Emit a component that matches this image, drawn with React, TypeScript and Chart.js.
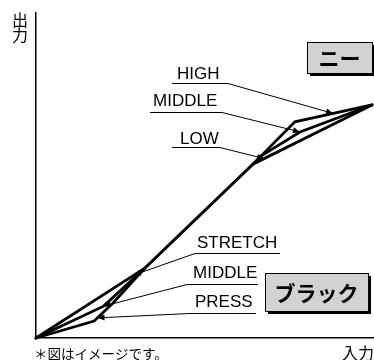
import React, { useEffect, useRef } from "react";
import { Chart, registerables } from "chart.js";

Chart.register(...registerables);

// ---- data (input → output, 0..100 both ways) ----
const stretchX = [0, 32.2];
const stretchY = [0, 21.5];
const blackMiddleX = [0, 20, 32.2];
const blackMiddleY = [0, 9.8, 21.5];
const pressX = [0, 17.2, 22.8, 32.2];
const pressY = [0, 5.2, 10.8, 21.5];
const linearX = [32.2, 64.2];
const linearY = [21.5, 53.5];
const lowX = [64.2, 99.4];
const lowY = [53.5, 71.7];
const kneeMiddleX = [64.2, 67, 78.1, 99.4];
const kneeMiddleY = [53.5, 56.3, 63.4, 71.7];
const highX = [64.2, 76.6, 99.4];
const highY = [53.5, 66.5, 71.7];

// labels and where their arrows point (data units)
const labelNames = ["HIGH", "MIDDLE", "LOW", "STRETCH", "MIDDLE", "PRESS"];
const labelTipX = [87.9, 78.1, 67.5, 29.0, 20.0, 18.2];
const labelTipY = [69.1, 63.4, 55.2, 19.4, 9.8, 6.2];

const kneeBoxText = "ニー";
const blackBoxText = "ブラック";
const yTitle = ["出", "力"];
const xTitle = "入力";
const noteText = "＊図はイメージです。";

// layout of label text (pixels)
const labelLayout = [
  { tx: 177, by: 79, u0: 172, u1: 228, uy: 83.5, side: "right" },
  { tx: 153, by: 106, u0: 150, u1: 222, uy: 112.5, side: "right" },
  { tx: 180, by: 144, u0: 172, u1: 220, uy: 147.5, side: "right" },
  { tx: 197, by: 248, u0: 195, u1: 280, uy: 253.5, side: "left" },
  { tx: 193, by: 278, u0: 187, u1: 258, uy: 284.5, side: "left" },
  { tx: 195, by: 307, u0: 190, u1: 256, uy: 313.5, side: "left" },
];

const toPts = (xs: number[], ys: number[]) => xs.map((x, i) => ({ x, y: ys[i] }));

const overlay = {
  id: "overlay",
  afterDraw(chart: any) {
    const { ctx, scales } = chart;
    const xs = scales.x;
    const ys = scales.y;
    ctx.save();
    ctx.fillStyle = "#000";
    ctx.strokeStyle = "#000";

    // callout labels
    labelNames.forEach((name, i) => {
      const l = labelLayout[i];
      const tx = xs.getPixelForValue(labelTipX[i]);
      const ty = ys.getPixelForValue(labelTipY[i]);
      ctx.font = '17px "Liberation Sans", Arial, sans-serif';
      ctx.textAlign = "left";
      ctx.textBaseline = "alphabetic";
      ctx.fillText(name, l.tx, l.by);
      ctx.lineWidth = 1;
      ctx.beginPath();
      let sx: number;
      if (l.side === "right") {
        ctx.moveTo(l.u0, l.uy);
        ctx.lineTo(l.u1, l.uy);
        sx = l.u1;
      } else {
        ctx.moveTo(l.u1, l.uy);
        ctx.lineTo(l.u0, l.uy);
        sx = l.u0;
      }
      ctx.lineTo(tx, ty);
      ctx.stroke();
      // arrow head
      const ang = Math.atan2(ty - l.uy, tx - sx);
      const len = 7;
      const hw = 3;
      const bx = tx - Math.cos(ang) * len;
      const by = ty - Math.sin(ang) * len;
      ctx.beginPath();
      ctx.moveTo(tx, ty);
      ctx.lineTo(bx + Math.sin(ang) * hw, by - Math.cos(ang) * hw);
      ctx.lineTo(bx - Math.sin(ang) * hw, by + Math.cos(ang) * hw);
      ctx.closePath();
      ctx.fill();
    });

    // boxes
    const box = (x: number, y: number, w: number, h: number, text: string) => {
      ctx.fillStyle = "#000";
      ctx.fillRect(x + 3, y + 3, w, h);
      ctx.fillStyle = "#d2d2d2";
      ctx.fillRect(x, y, w, h);
      ctx.lineWidth = 1;
      ctx.strokeStyle = "#000";
      ctx.strokeRect(x + 0.5, y + 0.5, w, h);
      ctx.fillStyle = "#000";
      ctx.font = 'bold 21px "Noto Sans CJK JP", sans-serif';
      ctx.textAlign = "center";
      ctx.textBaseline = "middle";
      ctx.fillText(text, x + w / 2, y + h / 2 + 1);
    };
    box(307, 42, 65, 31, kneeBoxText);
    box(265, 273, 103, 38, blackBoxText);

    // axis titles
    ctx.fillStyle = "#000";
    ctx.font = '16px "Noto Sans CJK JP", sans-serif';
    ctx.textAlign = "center";
    ctx.textBaseline = "middle";
    ctx.fillText(yTitle[0], 20, 20);
    ctx.fillText(yTitle[1], 20, 35);
    ctx.textAlign = "right";
    ctx.fillText(xTitle, 374, 353);
    ctx.font = '13.5px "Noto Sans CJK JP", sans-serif';
    ctx.textAlign = "left";
    ctx.fillText(noteText, 34, 354);
    ctx.restore();
  },
};

export default function App() {
  const ref = useRef<HTMLCanvasElement>(null);
  useEffect(() => {
    if (!ref.current) return;
    const ds = (xs: number[], ys: number[]) => ({
      data: toPts(xs, ys),
      showLine: true,
      borderColor: "#000",
      borderWidth: 2.8,
      pointRadius: 0,
      tension: 0,
      fill: false,
      clip: false as any,
      borderCapStyle: "round" as const,
    });
    const chart = new Chart(ref.current, {
      type: "scatter",
      data: {
        datasets: [
          ds(stretchX, stretchY),
          ds(blackMiddleX, blackMiddleY),
          ds(pressX, pressY),
          ds(linearX, linearY),
          ds(lowX, lowY),
          ds(kneeMiddleX, kneeMiddleY),
          ds(highX, highY),
        ],
      },
      options: {
        responsive: false,
        animation: false,
        layout: { padding: { left: 36, top: 13, right: 0, bottom: 22 } },
        plugins: { legend: { display: false }, tooltip: { enabled: false } },
        scales: {
          x: {
            type: "linear",
            min: 0,
            max: 100,
            ticks: { display: false },
            grid: { display: false, drawTicks: false },
            border: { display: true, color: "#000", width: 1.5 },
          },
          y: {
            type: "linear",
            min: 0,
            max: 100,
            ticks: { display: false },
            grid: { display: false, drawTicks: false },
            border: { display: true, color: "#000", width: 1.5 },
          },
        },
      },
      plugins: [overlay],
    });
    return () => chart.destroy();
  }, []);
  return (
    <div style={{ position: "absolute", left: 0, top: 0, width: 374, height: 360, background: "#fff" }}>
      <canvas ref={ref} width={374} height={360} />
    </div>
  );
}
